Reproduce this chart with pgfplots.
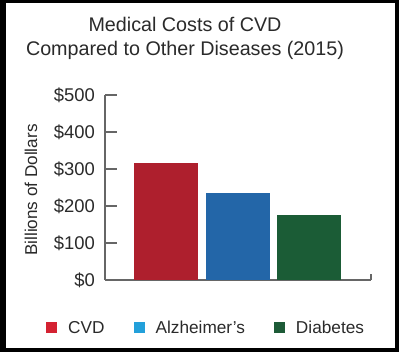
\documentclass[border=0pt]{standalone}
\usepackage{pgfplots}
\pgfplotsset{compat=1.18}
\usepackage{fontspec}
\setmainfont{Liberation Sans}
\definecolor{barred}{HTML}{AE1F2D}
\definecolor{barblue}{HTML}{2366A8}
\definecolor{bargreen}{HTML}{1B5C36}
\definecolor{legred}{HTML}{D42232}
\definecolor{legblue}{HTML}{23A0DA}
\definecolor{leggreen}{HTML}{1D5B37}
\definecolor{axgray}{HTML}{666666}
\definecolor{txt}{HTML}{2A2A2A}
\begin{document}
\begin{tikzpicture}[x=1bp,y=1bp]
\useasboundingbox (0,0) rectangle (399,352);
\fill[black] (0,0) rectangle (399,352);
\fill[white] (6,4) rectangle (395,349);
\node[anchor=base, text=txt, font=\fontsize{19.8}{23}\selectfont] at (185,321) {Medical Costs of CVD};
\node[anchor=base, text=txt, font=\fontsize{19.8}{23}\selectfont] at (185,297) {Compared to Other Diseases (2015)};
\begin{axis}[
  at={(105bp,72bp)}, anchor=south west,
  scale only axis, width=266bp, height=185bp,
  xmin=-0.853, xmax=2.867, ymin=0, ymax=500,
  axis x line=bottom, axis y line=left,
  axis line style={-, draw=axgray, line width=1.3pt},
  xtick=\empty,
  extra x ticks={2.867}, extra x tick labels={},
  extra x tick style={major tick length=6bp, tick align=inside, tick style={draw=axgray, line width=1.3pt}},
  ytick={0,100,200,300,400,500},
  yticklabels={\$0,\$100,\$200,\$300,\$400,\$500},
  tick align=inside, major tick length=12bp,
  y tick style={draw=axgray, line width=1.3pt},
  yticklabel style={inner sep=0pt, xshift=-10bp, text=txt, font=\fontsize{18.5}{22}\selectfont},
  ylabel={Billions of Dollars},
  every axis y label/.style={at={(axis description cs:-0.278,0.486)}, rotate=90, anchor=center, text=txt, font=\fontsize{17.2}{20}\selectfont},
  ybar, bar width=64bp, bar shift=0pt,
  legend columns=3,
  legend style={draw=none, fill=none, inner sep=0pt, at={(axis description cs:-0.2218,-0.259)}, anchor=west,
    font=\fontsize{17.3}{20}\selectfont, text=txt,
    nodes={inner sep=0pt},
    /tikz/every even column/.append style={column sep=29bp},
    /tikz/every odd column/.append style={column sep=11bp}},
]
\addplot[fill=barred, draw=none, legend image code/.code={\fill[legred] (0bp,-5.5bp) rectangle (11bp,5.5bp);}] coordinates {(0,317)};
\addplot[fill=barblue, draw=none, legend image code/.code={\fill[legblue] (0bp,-5.5bp) rectangle (11bp,5.5bp);}] coordinates {(1,234)};
\addplot[fill=bargreen, draw=none, legend image code/.code={\fill[leggreen] (0bp,-5.5bp) rectangle (11bp,5.5bp);}] coordinates {(2,175)};
\legend{CVD, Alzheimer's, Diabetes}
\end{axis}
\end{tikzpicture}
\end{document}
